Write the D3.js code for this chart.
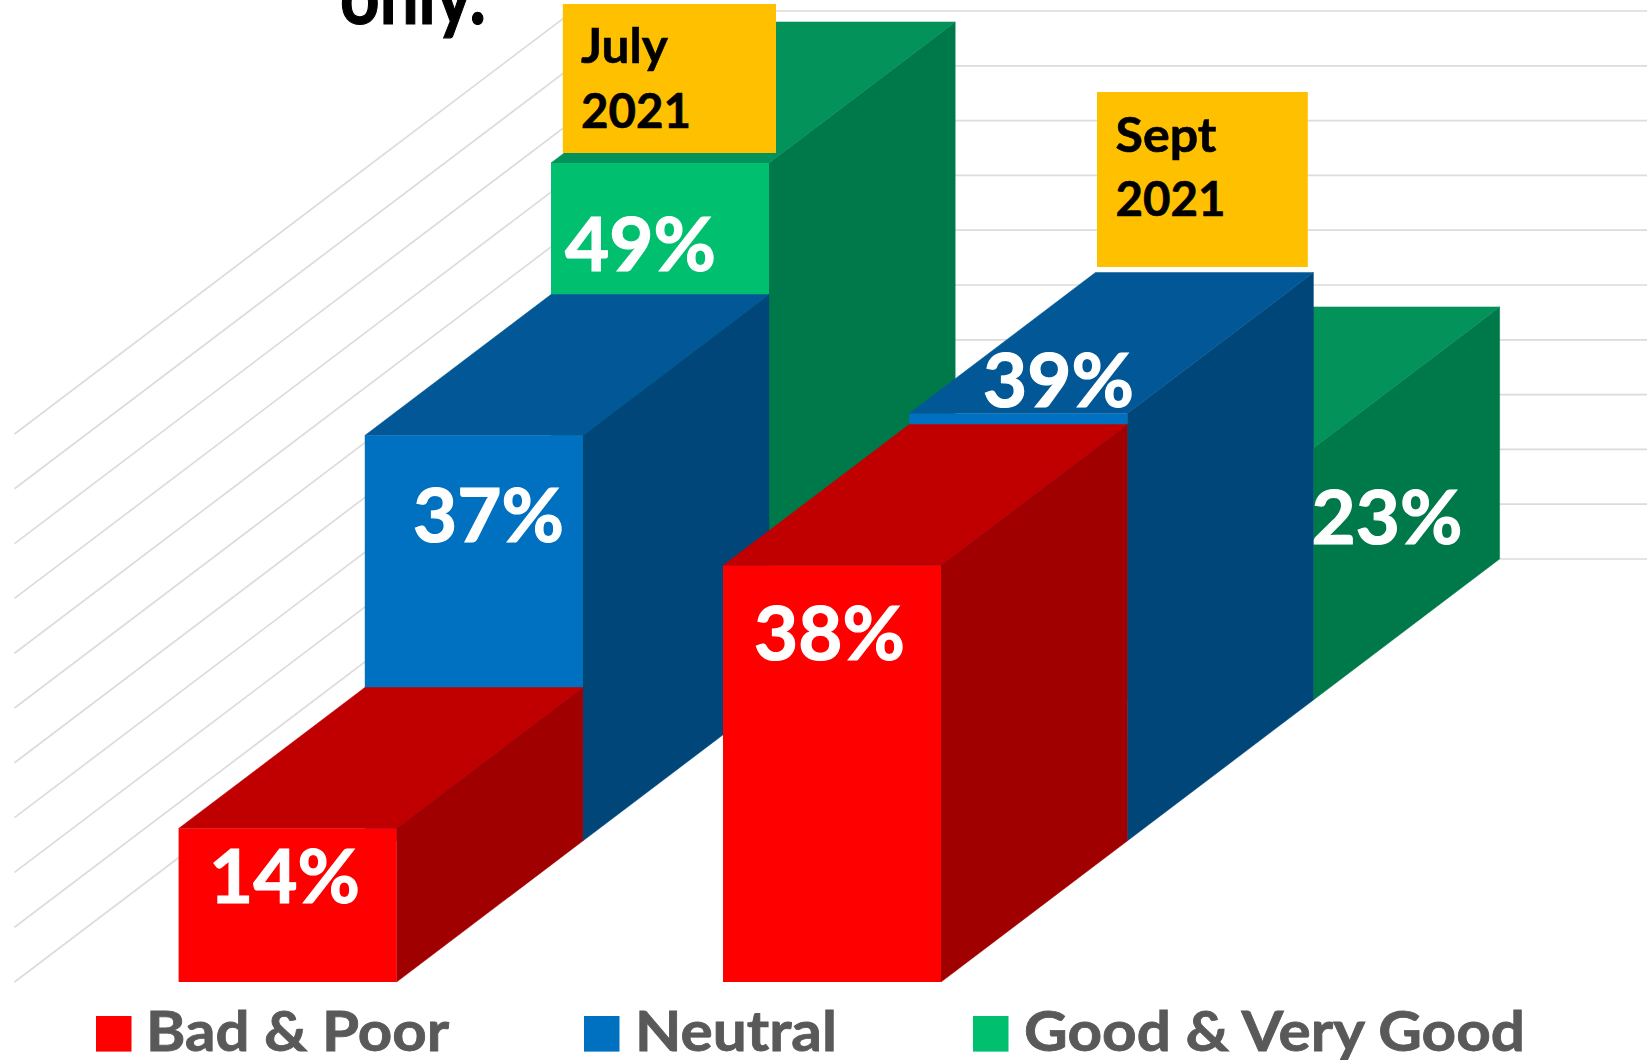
<!DOCTYPE html>
<html>
<head>
<meta charset="utf-8">
<style>
html,body{margin:0;padding:0;background:#fff;overflow:hidden}
svg{display:block}
text{font-family:Lato,"Open Sans",sans-serif;font-weight:700}
</style>
<script src="https://cdn.jsdelivr.net/npm/d3@7"></script>
</head>
<body>
<svg id="chart" width="1647" height="1060"></svg>
<script>
// ---- data ----
const categories = ["July 2021", "Sept 2021"];
const seriesNames = ["Bad & Poor", "Neutral", "Good & Very Good"];
const badPoor = [14, 38];
const neutral = [37, 39];
const good = [49, 23];
const yTicks = [0, 5, 10, 15, 20, 25, 30, 35, 40, 45, 50];
const noteText = "only.";

// ---- layout (not data) ----
const W = 1647, H = 1060;
const seriesValues = [badPoor, neutral, good];
const frontColor = ["#FF0000", "#0070C0", "#00C070"];
const topColor   = ["#C00000", "#025896", "#039259"];
const sideColor  = ["#A00000", "#014679", "#00794A"];

const svg = d3.select("#chart");

const x = d3.scaleBand().domain(categories).range([178.6, 941]).paddingInner(0.5996).paddingOuter(0);
const y = d3.scaleLinear().domain([0, 50]).range([982, 434]);
const depthStep = { x: 186.2, y: 141 };
const depth = d3.scaleLinear().domain([0, 1]).range([0, 1]);
const px = (cx, d) => cx + depth(d) * depthStep.x;
const py = (v, d) => y(v) - depth(d) * depthStep.y;

// ---- walls ----
const wallLeft = 14.5;
const grid = svg.append("g").attr("stroke", "#dcdcdc").attr("stroke-width", 1.7).attr("fill", "none");
grid.selectAll("path.wall").data(yTicks).join("path").attr("class", "wall")
  .attr("d", t => d3.line()([[px(wallLeft, 0), py(t, 0)], [px(wallLeft, 3), py(t, 3)], [W + 2, py(t, 3)]]));

// ---- bars: back series first ----
const poly = d3.line();
const barsData = [];
[2, 1, 0].forEach(s => categories.forEach((c, i) => barsData.push({ s, c, v: seriesValues[s][i] })));
const bars = svg.append("g").selectAll("g").data(barsData).join("g");
bars.append("path").attr("fill", d => sideColor[d.s]).attr("stroke", d => sideColor[d.s]).attr("stroke-width", 0.5).attr("d", d => {
  const r = x(d.c) + x.bandwidth();
  return poly([[px(r, d.s), py(d.v, d.s)], [px(r, d.s + 1), py(d.v, d.s + 1)], [px(r, d.s + 1), py(0, d.s + 1)], [px(r, d.s), py(0, d.s)]]) + "Z";
});
bars.append("path").attr("fill", d => topColor[d.s]).attr("stroke", d => topColor[d.s]).attr("stroke-width", 0.5).attr("d", d => {
  const l = x(d.c), r = l + x.bandwidth();
  return poly([[px(l, d.s), py(d.v, d.s)], [px(l, d.s + 1), py(d.v, d.s + 1)], [px(r, d.s + 1), py(d.v, d.s + 1)], [px(r, d.s), py(d.v, d.s)]]) + "Z";
});
bars.append("rect").attr("fill", d => frontColor[d.s])
  .attr("x", d => px(x(d.c), d.s)).attr("y", d => py(d.v, d.s))
  .attr("width", x.bandwidth()).attr("height", d => y(0) - y(d.v));

// ---- helper for text with fixed width ----
function put(g, str, tx, ty, size, fill, len, heavy) {
  const t = g.append("text").attr("x", tx).attr("y", ty).attr("font-size", size).attr("fill", fill).text(str);
  if (len) t.attr("textLength", len).attr("lengthAdjust", "spacingAndGlyphs");
  if (heavy) t.attr("stroke", fill).attr("stroke-width", heavy);
  return t;
}

// ---- data labels ----
const labels = svg.append("g");
const labelPlace = [
  [[209, 902.5], [754, 660]],
  [[413, 541.8], [983, 407.4]],
  [[565, 270.5], [1311.5, 543.5]]
];
seriesValues.forEach((vals, s) => vals.forEach((v, i) => {
  put(labels, v + "%", labelPlace[s][i][0], labelPlace[s][i][1], 75, "#fff", 151, 1.2);
}));

// ---- category boxes ----
const boxPlace = [
  { box: [562.8, 4, 213.2, 149], text: [581, 63.2, 127.8] },
  { box: [1097, 92, 210.8, 175], text: [1115.5, 152, 215.7] }
];
const boxLens = [[87, 110], [101, 110]];
categories.forEach((c, i) => {
  const b = boxPlace[i];
  const g = svg.append("g");
  g.append("rect").attr("x", b.box[0]).attr("y", b.box[1]).attr("width", b.box[2]).attr("height", b.box[3]).attr("fill", "#FFC000");
  const parts = c.split(" ");
  put(g, parts[0], b.text[0], b.text[1], 47, "#000", boxLens[i][0], 0.6);
  put(g, parts[1], b.text[0], b.text[2], 47, "#000", boxLens[i][1], 0.6);
});

// ---- legend ----
const legendPlace = [
  { sw: 96, tx: 146, len: 303 },
  { sw: 584, tx: 635, len: 202 },
  { sw: 973, tx: 1024, len: 501 }
];
const legend = svg.append("g").selectAll("g").data(seriesNames).join("g");
legend.append("rect").attr("x", (d, i) => legendPlace[i].sw).attr("y", 1016).attr("width", 35.5).attr("height", 35.6)
  .attr("fill", (d, i) => frontColor[i]);
legend.each(function (d, i) {
  put(d3.select(this), d, legendPlace[i].tx, 1050.6, 55, "#595959", legendPlace[i].len, 0.8);
});

// ---- clipped note ----
put(svg, noteText, 340, 24.3, 80, "#000", 146, 1.2);
</script>
</body>
</html>
